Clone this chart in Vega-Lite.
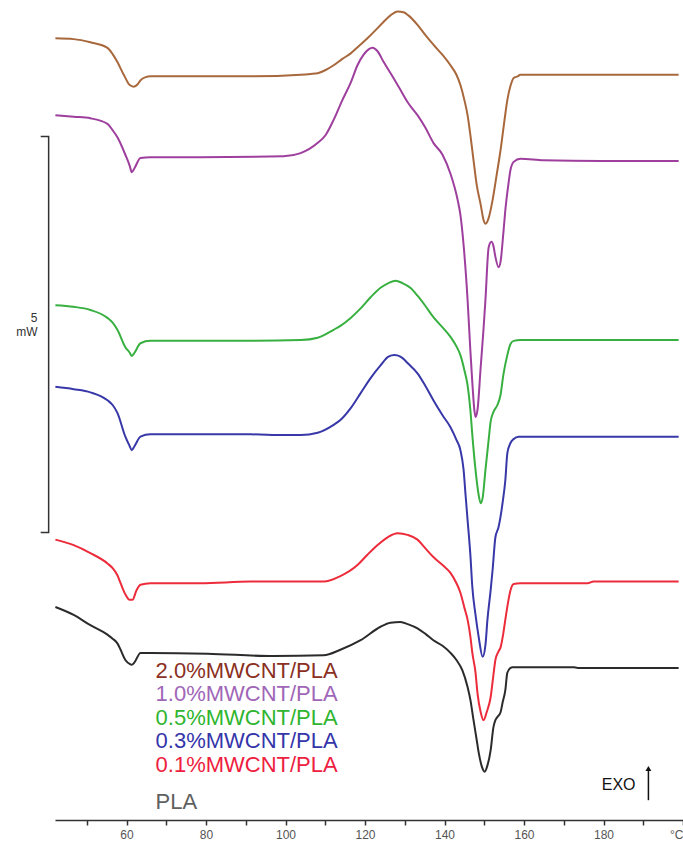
{
  "$schema": "https://vega.github.io/schema/vega-lite/v6.json",
  "width": 628,
  "height": 820,
  "autosize": {"type": "none"},
  "padding": {"left": 55, "top": 0, "right": 0, "bottom": 27},
  "background": "white",
  "config": {"view": {"stroke": null}, "font": "Liberation Sans"},
  "datasets": {
    "curves": [
      {"s":"2.0","T":42.1,"Q":9.87},{"s":"2.0","T":46.7,"Q":9.86},{"s":"2.0","T":50.9,"Q":9.82},{"s":"2.0","T":55.2,"Q":9.75},{"s":"2.0","T":56.5,"Q":9.67},{"s":"2.0","T":57.7,"Q":9.57},{"s":"2.0","T":59.5,"Q":9.39},{"s":"2.0","T":60.8,"Q":9.28},{"s":"2.0","T":61.8,"Q":9.26},{"s":"2.0","T":62.8,"Q":9.29},{"s":"2.0","T":63.5,"Q":9.34},{"s":"2.0","T":64.8,"Q":9.38},{"s":"2.0","T":66.0,"Q":9.39},{"s":"2.0","T":78.6,"Q":9.39},{"s":"2.0","T":91.2,"Q":9.39},{"s":"2.0","T":103.8,"Q":9.41},{"s":"2.0","T":106.3,"Q":9.42},{"s":"2.0","T":108.1,"Q":9.43},{"s":"2.0","T":110.1,"Q":9.47},{"s":"2.0","T":112.1,"Q":9.53},{"s":"2.0","T":114.3,"Q":9.61},{"s":"2.0","T":116.4,"Q":9.68},{"s":"2.0","T":118.4,"Q":9.77},{"s":"2.0","T":120.6,"Q":9.87},{"s":"2.0","T":122.6,"Q":9.97},{"s":"2.0","T":124.7,"Q":10.08},{"s":"2.0","T":126.4,"Q":10.16},{"s":"2.0","T":128.2,"Q":10.21},{"s":"2.0","T":129.7,"Q":10.20},{"s":"2.0","T":130.9,"Q":10.16},{"s":"2.0","T":133.2,"Q":10.04},{"s":"2.0","T":135.2,"Q":9.91},{"s":"2.0","T":137.2,"Q":9.79},{"s":"2.0","T":139.5,"Q":9.66},{"s":"2.0","T":141.5,"Q":9.53},{"s":"2.0","T":143.0,"Q":9.41},{"s":"2.0","T":144.0,"Q":9.28},{"s":"2.0","T":145.0,"Q":9.09},{"s":"2.0","T":145.8,"Q":8.90},{"s":"2.0","T":146.5,"Q":8.65},{"s":"2.0","T":147.3,"Q":8.33},{"s":"2.0","T":148.1,"Q":8.02},{"s":"2.0","T":149.1,"Q":7.77},{"s":"2.0","T":149.8,"Q":7.58},{"s":"2.0","T":150.3,"Q":7.53},{"s":"2.0","T":151.1,"Q":7.60},{"s":"2.0","T":152.1,"Q":7.83},{"s":"2.0","T":153.1,"Q":8.14},{"s":"2.0","T":154.1,"Q":8.46},{"s":"2.0","T":155.1,"Q":8.84},{"s":"2.0","T":155.8,"Q":9.09},{"s":"2.0","T":156.6,"Q":9.27},{"s":"2.0","T":157.4,"Q":9.37},{"s":"2.0","T":158.4,"Q":9.39},{"s":"2.0","T":159.1,"Q":9.41},{"s":"2.0","T":169.2,"Q":9.41},{"s":"2.0","T":184.3,"Q":9.41},{"s":"2.0","T":198.9,"Q":9.41},

      {"s":"1.0","T":42.1,"Q":8.90},{"s":"1.0","T":46.7,"Q":8.88},{"s":"1.0","T":50.9,"Q":8.86},{"s":"1.0","T":55.2,"Q":8.79},{"s":"1.0","T":56.5,"Q":8.71},{"s":"1.0","T":57.7,"Q":8.62},{"s":"1.0","T":59.7,"Q":8.40},{"s":"1.0","T":60.8,"Q":8.26},{"s":"1.0","T":61.3,"Q":8.18},{"s":"1.0","T":62.0,"Q":8.23},{"s":"1.0","T":63.5,"Q":8.36},{"s":"1.0","T":66.0,"Q":8.37},{"s":"1.0","T":78.6,"Q":8.37},{"s":"1.0","T":99.5,"Q":8.38},{"s":"1.0","T":103.8,"Q":8.42},{"s":"1.0","T":108.1,"Q":8.55},{"s":"1.0","T":110.1,"Q":8.65},{"s":"1.0","T":112.1,"Q":8.84},{"s":"1.0","T":114.3,"Q":9.09},{"s":"1.0","T":116.4,"Q":9.31},{"s":"1.0","T":118.1,"Q":9.53},{"s":"1.0","T":119.6,"Q":9.66},{"s":"1.0","T":120.9,"Q":9.73},{"s":"1.0","T":121.9,"Q":9.75},{"s":"1.0","T":123.1,"Q":9.71},{"s":"1.0","T":124.7,"Q":9.57},{"s":"1.0","T":126.9,"Q":9.39},{"s":"1.0","T":128.9,"Q":9.22},{"s":"1.0","T":130.9,"Q":9.05},{"s":"1.0","T":133.2,"Q":8.90},{"s":"1.0","T":135.2,"Q":8.74},{"s":"1.0","T":137.2,"Q":8.55},{"s":"1.0","T":139.5,"Q":8.40},{"s":"1.0","T":141.5,"Q":8.16},{"s":"1.0","T":143.3,"Q":7.83},{"s":"1.0","T":144.0,"Q":7.64},{"s":"1.0","T":144.8,"Q":7.26},{"s":"1.0","T":145.8,"Q":6.57},{"s":"1.0","T":146.5,"Q":5.93},{"s":"1.0","T":147.0,"Q":5.52},{"s":"1.0","T":147.5,"Q":5.18},{"s":"1.0","T":147.8,"Q":5.09},{"s":"1.0","T":148.3,"Q":5.18},{"s":"1.0","T":149.1,"Q":5.72},{"s":"1.0","T":149.8,"Q":6.19},{"s":"1.0","T":150.3,"Q":6.57},{"s":"1.0","T":151.1,"Q":7.23},{"s":"1.0","T":151.8,"Q":7.30},{"s":"1.0","T":152.3,"Q":7.25},{"s":"1.0","T":152.8,"Q":7.11},{"s":"1.0","T":153.6,"Q":6.98},{"s":"1.0","T":154.1,"Q":7.05},{"s":"1.0","T":154.8,"Q":7.41},{"s":"1.0","T":155.3,"Q":7.70},{"s":"1.0","T":156.1,"Q":8.04},{"s":"1.0","T":156.6,"Q":8.21},{"s":"1.0","T":157.4,"Q":8.31},{"s":"1.0","T":159.1,"Q":8.35},{"s":"1.0","T":164.9,"Q":8.33},{"s":"1.0","T":179.2,"Q":8.32},{"s":"1.0","T":198.9,"Q":8.32},

      {"s":"0.5","T":42.1,"Q":6.50},{"s":"0.5","T":46.7,"Q":6.48},{"s":"0.5","T":50.9,"Q":6.44},{"s":"0.5","T":55.2,"Q":6.34},{"s":"0.5","T":56.5,"Q":6.28},{"s":"0.5","T":57.7,"Q":6.19},{"s":"0.5","T":59.7,"Q":5.97},{"s":"0.5","T":60.8,"Q":5.90},{"s":"0.5","T":61.3,"Q":5.86},{"s":"0.5","T":62.0,"Q":5.90},{"s":"0.5","T":63.5,"Q":6.02},{"s":"0.5","T":66.0,"Q":6.05},{"s":"0.5","T":78.6,"Q":6.05},{"s":"0.5","T":91.2,"Q":6.05},{"s":"0.5","T":103.8,"Q":6.06},{"s":"0.5","T":108.1,"Q":6.09},{"s":"0.5","T":112.1,"Q":6.19},{"s":"0.5","T":113.8,"Q":6.24},{"s":"0.5","T":116.4,"Q":6.34},{"s":"0.5","T":118.9,"Q":6.46},{"s":"0.5","T":121.4,"Q":6.60},{"s":"0.5","T":123.9,"Q":6.72},{"s":"0.5","T":125.9,"Q":6.78},{"s":"0.5","T":127.7,"Q":6.81},{"s":"0.5","T":129.4,"Q":6.78},{"s":"0.5","T":131.4,"Q":6.72},{"s":"0.5","T":133.2,"Q":6.62},{"s":"0.5","T":135.2,"Q":6.49},{"s":"0.5","T":137.2,"Q":6.35},{"s":"0.5","T":139.5,"Q":6.22},{"s":"0.5","T":141.5,"Q":6.10},{"s":"0.5","T":143.0,"Q":5.98},{"s":"0.5","T":144.0,"Q":5.87},{"s":"0.5","T":145.0,"Q":5.68},{"s":"0.5","T":145.8,"Q":5.49},{"s":"0.5","T":146.5,"Q":5.18},{"s":"0.5","T":147.0,"Q":4.86},{"s":"0.5","T":147.8,"Q":4.42},{"s":"0.5","T":148.6,"Q":4.10},{"s":"0.5","T":149.1,"Q":4.00},{"s":"0.5","T":149.6,"Q":4.07},{"s":"0.5","T":150.3,"Q":4.42},{"s":"0.5","T":151.1,"Q":4.80},{"s":"0.5","T":151.6,"Q":5.03},{"s":"0.5","T":152.3,"Q":5.15},{"s":"0.5","T":153.3,"Q":5.24},{"s":"0.5","T":154.1,"Q":5.37},{"s":"0.5","T":154.8,"Q":5.62},{"s":"0.5","T":155.8,"Q":5.87},{"s":"0.5","T":156.6,"Q":6.01},{"s":"0.5","T":157.4,"Q":6.05},{"s":"0.5","T":159.1,"Q":6.06},{"s":"0.5","T":179.2,"Q":6.06},{"s":"0.5","T":198.9,"Q":6.06},

      {"s":"0.3","T":42.1,"Q":5.47},{"s":"0.3","T":46.7,"Q":5.44},{"s":"0.3","T":50.9,"Q":5.40},{"s":"0.3","T":55.2,"Q":5.30},{"s":"0.3","T":56.5,"Q":5.24},{"s":"0.3","T":57.7,"Q":5.14},{"s":"0.3","T":59.7,"Q":4.84},{"s":"0.3","T":60.8,"Q":4.72},{"s":"0.3","T":61.3,"Q":4.67},{"s":"0.3","T":62.0,"Q":4.72},{"s":"0.3","T":63.5,"Q":4.84},{"s":"0.3","T":66.0,"Q":4.87},{"s":"0.3","T":78.6,"Q":4.87},{"s":"0.3","T":91.2,"Q":4.87},{"s":"0.3","T":99.5,"Q":4.86},{"s":"0.3","T":103.8,"Q":4.86},{"s":"0.3","T":108.1,"Q":4.89},{"s":"0.3","T":112.1,"Q":4.99},{"s":"0.3","T":113.8,"Q":5.05},{"s":"0.3","T":116.4,"Q":5.20},{"s":"0.3","T":118.9,"Q":5.39},{"s":"0.3","T":121.4,"Q":5.58},{"s":"0.3","T":123.9,"Q":5.74},{"s":"0.3","T":125.9,"Q":5.85},{"s":"0.3","T":127.4,"Q":5.87},{"s":"0.3","T":128.9,"Q":5.85},{"s":"0.3","T":130.9,"Q":5.76},{"s":"0.3","T":133.2,"Q":5.64},{"s":"0.3","T":135.2,"Q":5.48},{"s":"0.3","T":137.2,"Q":5.30},{"s":"0.3","T":139.5,"Q":5.11},{"s":"0.3","T":141.5,"Q":4.96},{"s":"0.3","T":143.0,"Q":4.80},{"s":"0.3","T":144.0,"Q":4.67},{"s":"0.3","T":144.8,"Q":4.42},{"s":"0.3","T":145.3,"Q":4.10},{"s":"0.3","T":145.8,"Q":3.79},{"s":"0.3","T":146.5,"Q":3.35},{"s":"0.3","T":147.0,"Q":2.94},{"s":"0.3","T":147.8,"Q":2.59},{"s":"0.3","T":148.6,"Q":2.31},{"s":"0.3","T":149.6,"Q":2.06},{"s":"0.3","T":150.3,"Q":2.21},{"s":"0.3","T":150.8,"Q":2.53},{"s":"0.3","T":151.6,"Q":2.90},{"s":"0.3","T":152.1,"Q":3.16},{"s":"0.3","T":152.8,"Q":3.57},{"s":"0.3","T":153.6,"Q":3.70},{"s":"0.3","T":154.6,"Q":4.00},{"s":"0.3","T":155.3,"Q":4.29},{"s":"0.3","T":155.8,"Q":4.63},{"s":"0.3","T":156.6,"Q":4.76},{"s":"0.3","T":157.4,"Q":4.81},{"s":"0.3","T":158.6,"Q":4.84},{"s":"0.3","T":179.2,"Q":4.84},{"s":"0.3","T":198.9,"Q":4.84},

      {"s":"0.1","T":42.1,"Q":3.54},{"s":"0.1","T":46.7,"Q":3.47},{"s":"0.1","T":50.9,"Q":3.37},{"s":"0.1","T":55.2,"Q":3.24},{"s":"0.1","T":56.5,"Q":3.18},{"s":"0.1","T":57.7,"Q":3.09},{"s":"0.1","T":58.5,"Q":2.99},{"s":"0.1","T":59.7,"Q":2.85},{"s":"0.1","T":60.8,"Q":2.78},{"s":"0.1","T":61.5,"Q":2.78},{"s":"0.1","T":62.5,"Q":2.90},{"s":"0.1","T":63.5,"Q":2.97},{"s":"0.1","T":66.0,"Q":2.99},{"s":"0.1","T":78.6,"Q":2.99},{"s":"0.1","T":91.2,"Q":3.01},{"s":"0.1","T":103.8,"Q":3.01},{"s":"0.1","T":109.6,"Q":3.01},{"s":"0.1","T":113.8,"Q":3.08},{"s":"0.1","T":118.1,"Q":3.22},{"s":"0.1","T":120.6,"Q":3.35},{"s":"0.1","T":123.1,"Q":3.47},{"s":"0.1","T":125.7,"Q":3.57},{"s":"0.1","T":128.2,"Q":3.62},{"s":"0.1","T":130.7,"Q":3.60},{"s":"0.1","T":133.2,"Q":3.54},{"s":"0.1","T":135.2,"Q":3.43},{"s":"0.1","T":137.2,"Q":3.32},{"s":"0.1","T":139.5,"Q":3.22},{"s":"0.1","T":141.5,"Q":3.12},{"s":"0.1","T":143.0,"Q":2.99},{"s":"0.1","T":144.0,"Q":2.87},{"s":"0.1","T":145.0,"Q":2.68},{"s":"0.1","T":145.8,"Q":2.53},{"s":"0.1","T":146.5,"Q":2.32},{"s":"0.1","T":147.0,"Q":2.11},{"s":"0.1","T":147.8,"Q":1.86},{"s":"0.1","T":148.3,"Q":1.60},{"s":"0.1","T":149.1,"Q":1.36},{"s":"0.1","T":149.8,"Q":1.26},{"s":"0.1","T":150.6,"Q":1.36},{"s":"0.1","T":151.6,"Q":1.55},{"s":"0.1","T":152.3,"Q":1.83},{"s":"0.1","T":152.8,"Q":2.02},{"s":"0.1","T":153.6,"Q":2.13},{"s":"0.1","T":154.1,"Q":2.18},{"s":"0.1","T":154.8,"Q":2.36},{"s":"0.1","T":155.3,"Q":2.53},{"s":"0.1","T":156.1,"Q":2.78},{"s":"0.1","T":156.6,"Q":2.90},{"s":"0.1","T":157.4,"Q":2.98},{"s":"0.1","T":159.1,"Q":2.99},{"s":"0.1","T":176.0,"Q":2.99},{"s":"0.1","T":177.5,"Q":3.01},{"s":"0.1","T":198.9,"Q":3.01},

      {"s":"PLA","T":42.1,"Q":2.69},{"s":"PLA","T":46.7,"Q":2.59},{"s":"PLA","T":50.9,"Q":2.46},{"s":"PLA","T":55.2,"Q":2.34},{"s":"PLA","T":56.5,"Q":2.29},{"s":"PLA","T":57.7,"Q":2.23},{"s":"PLA","T":58.5,"Q":2.15},{"s":"PLA","T":59.7,"Q":2.02},{"s":"PLA","T":60.8,"Q":1.97},{"s":"PLA","T":61.3,"Q":1.96},{"s":"PLA","T":62.0,"Q":1.99},{"s":"PLA","T":63.5,"Q":2.11},{"s":"PLA","T":66.0,"Q":2.11},{"s":"PLA","T":80.4,"Q":2.10},{"s":"PLA","T":97.0,"Q":2.07},{"s":"PLA","T":109.6,"Q":2.08},{"s":"PLA","T":113.8,"Q":2.15},{"s":"PLA","T":118.9,"Q":2.27},{"s":"PLA","T":123.9,"Q":2.44},{"s":"PLA","T":126.4,"Q":2.49},{"s":"PLA","T":128.9,"Q":2.50},{"s":"PLA","T":130.9,"Q":2.47},{"s":"PLA","T":133.2,"Q":2.42},{"s":"PLA","T":135.2,"Q":2.35},{"s":"PLA","T":137.2,"Q":2.27},{"s":"PLA","T":139.5,"Q":2.20},{"s":"PLA","T":141.5,"Q":2.11},{"s":"PLA","T":143.0,"Q":2.02},{"s":"PLA","T":144.5,"Q":1.89},{"s":"PLA","T":145.8,"Q":1.68},{"s":"PLA","T":146.5,"Q":1.52},{"s":"PLA","T":147.3,"Q":1.26},{"s":"PLA","T":148.1,"Q":1.01},{"s":"PLA","T":148.6,"Q":0.85},{"s":"PLA","T":149.3,"Q":0.69},{"s":"PLA","T":150.1,"Q":0.61},{"s":"PLA","T":150.8,"Q":0.69},{"s":"PLA","T":151.6,"Q":0.88},{"s":"PLA","T":152.3,"Q":1.17},{"s":"PLA","T":152.8,"Q":1.26},{"s":"PLA","T":153.3,"Q":1.30},{"s":"PLA","T":154.1,"Q":1.36},{"s":"PLA","T":154.6,"Q":1.48},{"s":"PLA","T":155.3,"Q":1.64},{"s":"PLA","T":155.8,"Q":1.86},{"s":"PLA","T":156.6,"Q":1.92},{"s":"PLA","T":157.1,"Q":1.93},{"s":"PLA","T":172.5,"Q":1.93},{"s":"PLA","T":173.5,"Q":1.92},{"s":"PLA","T":198.9,"Q":1.92}
    ],
    "bar": [
      {"i":0,"T":38.4,"Q":8.63},{"i":1,"T":40.4,"Q":8.63},{"i":2,"T":40.4,"Q":3.63},{"i":3,"T":38.4,"Q":3.63}
    ],
    "barlabels": [
      {"T":37.6,"Q":6.34,"label":"5"},{"T":37.6,"Q":6.16,"label":"mW"}
    ],
    "names": [
      {"T":67.3,"Q":1.88,"label":"2.0%MWCNT/PLA","g":"2.0"},
      {"T":67.3,"Q":1.59,"label":"1.0%MWCNT/PLA","g":"1.0"},
      {"T":67.3,"Q":1.29,"label":"0.5%MWCNT/PLA","g":"0.5"},
      {"T":67.3,"Q":1.00,"label":"0.3%MWCNT/PLA","g":"0.3"},
      {"T":67.3,"Q":0.70,"label":"0.1%MWCNT/PLA","g":"0.1"},
      {"T":67.3,"Q":0.23,"label":"PLA","g":"PLA"}
    ],
    "exo": [{"T":183.8,"Q":0.44,"label":"EXO"}],
    "arrow": [{"T":191.3,"Q":0.25,"Q2":0.63}],
    "head": [{"T":191.3,"Q":0.65}]
  },
  "encoding": {
    "x": {"field": "T", "type": "quantitative",
      "scale": {"domain": [42, 200], "nice": false, "zero": false},
      "axis": {"title": null, "grid": false,
        "values": [50,60,70,80,90,100,110,120,130,140,150,160,170,180,190,200],
        "labelExpr": "datum.value % 20 == 0 ? (datum.value == 200 ? '°C' : datum.label) : ''",
        "domainColor": "#333", "domainWidth": 1.5, "tickColor": "#333", "tickWidth": 1.5, "tickSize": 5,
        "labelFont": "Liberation Sans", "labelFontSize": 12, "labelColor": "#555", "labelPadding": 4,
        "labelFlush": true, "labelOverlap": false}},
    "y": {"field": "Q", "type": "quantitative",
      "scale": {"domain": [0, 10.354], "nice": false, "zero": false}, "axis": null}
  },
  "layer": [
    {
      "data": {"name": "curves"},
      "mark": {"type": "line", "strokeWidth": 2, "interpolate": "monotone"},
      "encoding": {
        "color": {"field": "s", "type": "nominal", "legend": null,
          "scale": {"domain": ["2.0","1.0","0.5","0.3","0.1","PLA"],
                    "range": ["#a8683c","#9e3f9e","#38b040","#3838a8","#ec2b3b","#2b2b2b"]}}
      }
    },
    {
      "data": {"name": "bar"},
      "mark": {"type": "line", "color": "#333", "strokeWidth": 1.5},
      "encoding": {"order": {"field": "i", "type": "quantitative"}}
    },
    {
      "data": {"name": "barlabels"},
      "mark": {"type": "text", "align": "right", "baseline": "middle", "fontSize": 12, "color": "#333"},
      "encoding": {"text": {"field": "label"}}
    },
    {
      "data": {"name": "names"},
      "mark": {"type": "text", "align": "left", "baseline": "middle", "fontSize": 22},
      "encoding": {
        "text": {"field": "label"},
        "fill": {"field": "g", "type": "nominal", "legend": null,
          "scale": {"domain": ["2.0","1.0","0.5","0.3","0.1","PLA"],
                    "range": ["#8a2f22","#a066b8","#2fb52f","#3535aa","#ee2040","#606060"]}}
      }
    },
    {
      "data": {"name": "exo"},
      "mark": {"type": "text", "align": "center", "baseline": "middle", "fontSize": 16, "color": "#111"},
      "encoding": {"text": {"field": "label"}}
    },
    {
      "data": {"name": "arrow"},
      "mark": {"type": "rule", "color": "#111", "strokeWidth": 1.5},
      "encoding": {"y2": {"field": "Q2"}}
    },
    {
      "data": {"name": "head"},
      "mark": {"type": "point", "shape": "triangle-up", "filled": true, "size": 35, "color": "#111", "opacity": 1},
      "encoding": {}
    }
  ]
}
